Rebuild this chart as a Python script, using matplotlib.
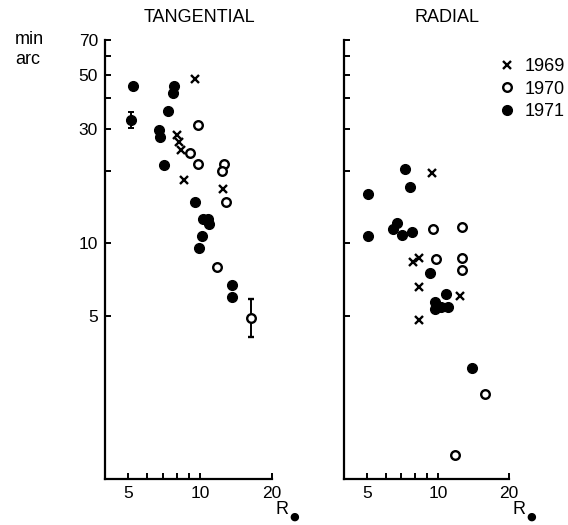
import matplotlib
matplotlib.use("Agg")
import matplotlib.pyplot as plt
import numpy as np

# ---------------- data (R in solar radii, size in min arc) ----------------
# TANGENTIAL panel
tan_1969_r = [9.5, 8.0, 8.2, 8.35, 8.6, 12.5]
tan_1969_s = [48.0, 28.2, 26.5, 24.4, 18.4, 16.8]

tan_1970_r = [9.8, 9.1, 9.8, 12.6, 12.35, 12.85, 11.8]
tan_1970_s = [31.1, 23.7, 21.3, 21.4, 20.0, 14.8, 8.0]

tan_1971_r = [5.23, 7.76, 7.7, 7.32, 6.70, 6.78, 7.08, 9.5, 10.25, 10.77,
              10.9, 10.15, 9.9, 13.6, 13.6]
tan_1971_s = [45.0, 45.0, 42.3, 35.6, 29.6, 27.8, 21.2, 14.8, 12.6, 12.6,
              12.05, 10.7, 9.55, 6.73, 5.98]

# points with error bars (TANGENTIAL)
tan_err_1971_r = [5.15]
tan_err_1971_s = [32.6]
tan_err_1971_lo = [30.2]
tan_err_1971_hi = [35.2]

tan_err_1970_r = [16.3]
tan_err_1970_s = [4.9]
tan_err_1970_lo = [4.08]
tan_err_1970_hi = [5.9]

# RADIAL panel
rad_1969_r = [9.4, 7.86, 8.34, 8.28, 12.4, 8.34]
rad_1969_s = [19.7, 8.4, 8.68, 6.58, 6.07, 4.81]

rad_1970_r = [9.57, 12.6, 9.83, 12.6, 12.6, 15.9, 11.8]
rad_1970_s = [11.5, 11.7, 8.6, 8.73, 7.76, 2.37, 1.32]

rad_1971_r = [7.22, 7.61, 5.05, 5.05, 6.42, 6.74, 7.03, 7.76, 9.3, 10.77,
              9.76, 9.76, 10.3, 11.0, 13.9]
rad_1971_s = [20.3, 17.1, 16.0, 10.7, 11.5, 12.1, 10.85, 11.1, 7.52, 6.15,
              5.73, 5.33, 5.46, 5.46, 3.05]

years = ["1969", "1970", "1971"]

x_ticks = [5, 6, 7, 8, 9, 10, 20]
x_labels = ["5", "", "", "", "", "10", "20"]
y_ticks = [5, 10, 20, 30, 40, 50, 60, 70]
y_labels = ["5", "10", "", "30", "", "50", "", "70"]

# ---------------- figure ----------------
FONT = ["Liberation Sans", "DejaVu Sans"]
plt.rcParams["font.family"] = FONT

W, H = 568, 525
fig = plt.figure(figsize=(W / 100, H / 100), dpi=100)

def axes_px(x0, x1, ytop, ybot):
    return fig.add_axes([x0 / W, 1 - ybot / H, (x1 - x0) / W, (ybot - ytop) / H])

axL = axes_px(105, 272, 40, 479)
axR = axes_px(344, 509, 40, 479)

def style(ax, ylabels=True):
    ax.set_xscale("log")
    ax.set_yscale("log")
    ax.set_xlim(4.0, 20.0)
    ax.set_ylim(1.05, 70)
    for s in ("top", "right"):
        ax.spines[s].set_visible(False)
    for s in ("left", "bottom"):
        ax.spines[s].set_linewidth(1.6)
    ax.xaxis.set_minor_locator(matplotlib.ticker.NullLocator())
    ax.yaxis.set_minor_locator(matplotlib.ticker.NullLocator())
    ax.set_xticks(x_ticks)
    ax.set_xticklabels(x_labels)
    ax.set_yticks(y_ticks)
    ax.set_yticklabels(y_labels if ylabels else [""] * len(y_ticks))
    ax.tick_params(direction="in", length=4, width=1.4, labelsize=12.5, pad=5)

style(axL, True)
style(axR, False)

cross_kw = dict(marker="x", linestyle="none", color="black", markersize=6, mew=1.7)
open_kw = dict(marker="o", linestyle="none", markerfacecolor="white",
               markeredgecolor="black", markersize=6.2, mew=1.7)
fill_kw = dict(marker="o", linestyle="none", color="black", markersize=7)

# Tangential
axL.plot(tan_1969_r, tan_1969_s, **cross_kw)
axL.plot(tan_1970_r, tan_1970_s, **open_kw)
axL.plot(tan_1971_r, tan_1971_s, **fill_kw)
axL.errorbar(tan_err_1971_r, tan_err_1971_s,
             yerr=[np.subtract(tan_err_1971_s, tan_err_1971_lo),
                   np.subtract(tan_err_1971_hi, tan_err_1971_s)],
             fmt="o", color="black", markersize=7, capsize=2.5, elinewidth=1.4,
             capthick=1.4)
axL.errorbar(tan_err_1970_r, tan_err_1970_s,
             yerr=[np.subtract(tan_err_1970_s, tan_err_1970_lo),
                   np.subtract(tan_err_1970_hi, tan_err_1970_s)],
             fmt="o", color="black", markerfacecolor="white", markersize=6.2,
             mew=1.7, capsize=2.5, elinewidth=1.4, capthick=1.4)

# Radial
h1, = axR.plot(rad_1969_r, rad_1969_s, **cross_kw)
h2, = axR.plot(rad_1970_r, rad_1970_s, **open_kw)
h3, = axR.plot(rad_1971_r, rad_1971_s, **fill_kw)

leg = axR.legend([h1, h2, h3], years, loc="upper left",
                 bbox_to_anchor=(0.9, 0.975), frameon=False,
                 handlelength=0.8, handletextpad=0.6, labelspacing=0.3,
                 fontsize=13, borderaxespad=0)

# Texts
fig.text(199 / W, 1 - 17 / H, "TANGENTIAL", ha="center", va="center", fontsize=13)
fig.text(447 / W, 1 - 17 / H, "RADIAL", ha="center", va="center", fontsize=13)
fig.text(15 / W, 1 - 40 / H, "min", ha="left", va="center", fontsize=13)
fig.text(15 / W, 1 - 60 / H, "arc", ha="left", va="center", fontsize=13)
for xr in (282, 519):
    fig.text(xr / W, 1 - 509 / H, "R", ha="center", va="center", fontsize=13)
    fig.text((xr + 12) / W, 1 - 517 / H, "\u25CF", ha="center", va="center",
             fontsize=8, family=["DejaVu Sans"])

fig.savefig("out.png", dpi=100)
